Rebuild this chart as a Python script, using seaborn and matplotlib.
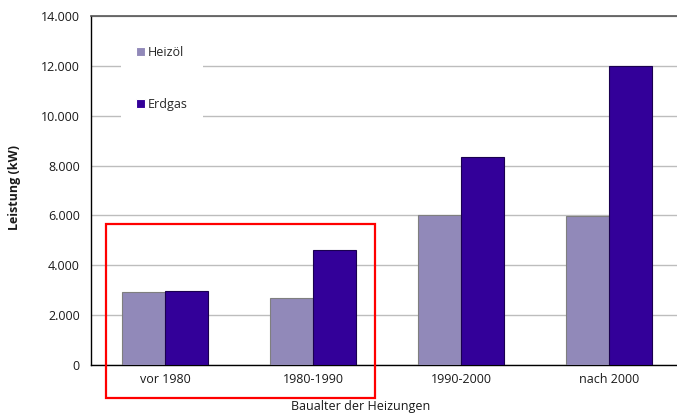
import pandas as pd
import seaborn as sns
import matplotlib.pyplot as plt
from matplotlib.ticker import FuncFormatter, FixedLocator
from matplotlib.patches import Rectangle

# Leistung nach Baualter der Heizungen
kategorien = ['vor 1980', '1980-1990', '1990-2000', 'nach 2000']
heizoel = [2920, 2700, 6000, 5980]
erdgas = [2950, 4600, 8350, 12000]
y_ticks = [0, 2000, 4000, 6000, 8000, 10000, 12000, 14000]

df = pd.DataFrame({
    'Baualter': kategorien * 2,
    'Leistung': heizoel + erdgas,
    'Energie': ['Heizöl'] * len(kategorien) + ['Erdgas'] * len(kategorien),
})

sns.set_style('white')
plt.rcParams['font.family'] = ['Open Sans', 'DejaVu Sans']
fs = 9

fig = plt.figure(figsize=(6.77, 4.19), dpi=100)
ax = fig.add_axes([91 / 677, 1 - 365 / 419, 592 / 677, 349 / 419])

sns.barplot(data=df, x='Baualter', y='Leistung', hue='Energie',
            palette={'Heizöl': '#9189B9', 'Erdgas': '#330099'}, saturation=1,
            width=0.575, gap=0, ax=ax, zorder=3)
for bar, ec in zip(ax.patches, ['#7F7F7F'] * 4 + ['#1A0050'] * 4):
    bar.set_edgecolor(ec)
    bar.set_linewidth(0.8)

ax.set_xlim(-0.5, 3.5)
ax.set_ylim(0, 14000)
ax.yaxis.set_major_locator(FixedLocator(y_ticks))
ax.yaxis.set_major_formatter(FuncFormatter(lambda v, p: f'{int(v):,}'.replace(',', '.')))
ax.grid(axis='y', color='#BDBDBD', linewidth=1, zorder=0)
ax.set_axisbelow(True)

ax.xaxis.set_minor_locator(FixedLocator([0.5, 1.5, 2.5]))
ax.tick_params(axis='x', which='major', length=0, labelsize=fs, colors='#1a1a1a', pad=6)
ax.tick_params(axis='x', which='minor', length=4, width=1, color='black', direction='out')
ax.tick_params(axis='y', length=4, width=1, color='black', direction='out', labelsize=fs,
               labelcolor='#1a1a1a', pad=4)

for s in ['left', 'bottom']:
    ax.spines[s].set_color('black')
    ax.spines[s].set_linewidth(1)
ax.spines['top'].set_color('#555555')
ax.spines['top'].set_linewidth(1.2)
ax.spines['right'].set_visible(False)

ax.set_xlabel('Baualter der Heizungen', fontsize=fs, color='#1a1a1a')
ax.xaxis.set_label_coords(0.456, -0.1)
ax.set_ylabel('Leistung (kW)', fontsize=fs, fontweight='bold', color='#1a1a1a')
ax.yaxis.set_label_coords(-0.118, 0.51)

leg = ax.legend(loc='upper left', bbox_to_anchor=(0.05, 0.957), frameon=True,
                fontsize=fs, labelspacing=3.1, handlelength=0.75, handleheight=0.75,
                handletextpad=0.25, borderpad=1.2, borderaxespad=0, fancybox=False)
leg.get_frame().set_facecolor('white')
leg.get_frame().set_edgecolor('none')
leg.get_frame().set_alpha(1)
for h in leg.legend_handles:
    h.set_linewidth(0.8)

fig.patches.append(Rectangle((106 / 677, 1 - 398 / 419), 269 / 677, 174 / 419,
                             transform=fig.transFigure, fill=False,
                             edgecolor='#FF0000', linewidth=1.6, zorder=10))

fig.savefig('out.png', dpi=100)
